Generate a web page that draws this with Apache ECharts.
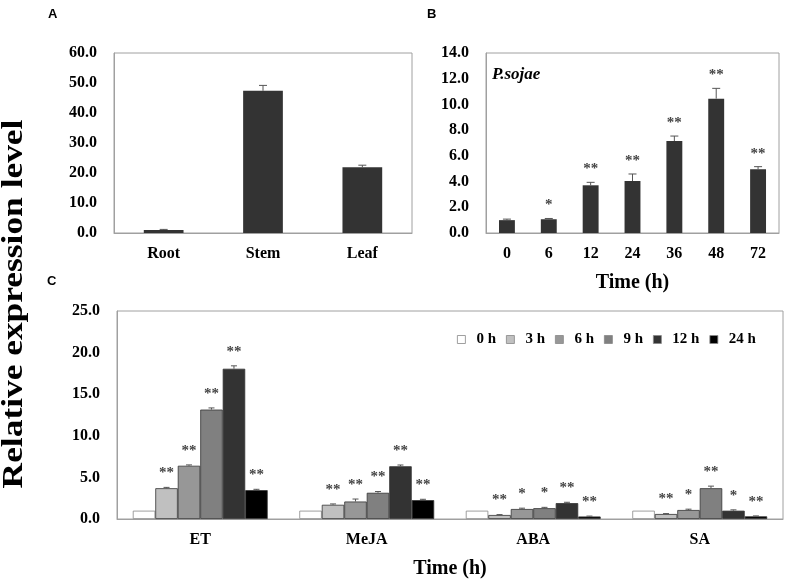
<!DOCTYPE html>
<html>
<head>
<meta charset="utf-8">
<script src="https://cdn.jsdelivr.net/npm/echarts@6/dist/echarts.min.js"></script>
<style>
  html, body { margin: 0; padding: 0; background: #fff; }
  #chart { width: 787px; height: 580px; }
</style>
</head>
<body>
<div id="chart"></div>
<script>
// Panel A: tissues
const tissues = ["Root", "Stem", "Leaf"];
const tissueVals = [1.0, 47.4, 21.9];
const tissueErr = [0.2, 1.8, 0.7];

// Panel B: P. sojae time course
const infTimes = ["0", "6", "12", "24", "36", "48", "72"];
const infVals = [1.0, 1.07, 3.71, 4.04, 7.15, 10.45, 4.95];
const infErr = [0.08, 0.06, 0.23, 0.55, 0.39, 0.8, 0.21];
const infStars = ["", "*", "**", "**", "**", "**", "**"];

// Panel C: hormone treatments
const stresses = ["ET", "MeJA", "ABA", "SA"];
const hours = ["0 h", "3 h", "6 h", "9 h", "12 h", "24 h"];
const h0 = [1.0, 1.0, 1.0, 1.0];
const h3 = [3.7, 1.71, 0.48, 0.6];
const h6 = [6.4, 2.1, 1.2, 1.08];
const h9 = [13.15, 3.15, 1.3, 3.7];
const h12 = [18.06, 6.34, 1.91, 1.0];
const h24 = [3.47, 2.27, 0.3, 0.32];
const e0 = [0, 0, 0, 0];
const e3 = [0.1, 0.1, 0.05, 0.05];
const e6 = [0.1, 0.3, 0.1, 0.1];
const e9 = [0.2, 0.15, 0.1, 0.25];
const e12 = [0.35, 0.15, 0.1, 0.1];
const e24 = [0.1, 0.1, 0.05, 0.05];
const s0 = ["", "", "", ""];
const s3 = ["**", "**", "**", "**"];
const s6 = ["**", "**", "*", "*"];
const s9 = ["**", "**", "*", "**"];
const s12 = ["**", "**", "**", "*"];
const s24 = ["**", "**", "**", "**"];

const hourVals = [h0, h3, h6, h9, h12, h24];
const hourErr = [e0, e3, e6, e9, e12, e24];
const hourStars = [s0, s3, s6, s9, s12, s24];
const hourColors = ["#ffffff", "#c0c0c0", "#979797", "#808080", "#333333", "#000000"];

const serif = "Liberation Serif";
const axisGray = "#a0a0a0";

// error bar + asterisk drawn over a bar (n bars per category, this one is k)
function errorSeries(gridIdx, vals, errs, stars, n, k, catGap, capW, starGap) {
  return {
    type: "custom",
    xAxisIndex: gridIdx,
    yAxisIndex: gridIdx,
    z: 5,
    data: vals.map((v, i) => [i, v, errs[i]]),
    renderItem: (params, api) => {
      const i = params.dataIndex;
      const base = api.coord([api.value(0), api.value(1)]);
      const top = api.coord([api.value(0), api.value(1) + api.value(2)]);
      const band = api.size([1, 0])[0];
      const groupW = band * (1 - catGap);
      const barW = groupW / n;
      const x = base[0] - groupW / 2 + barW * (k + 0.5);
      const children = [];
      if (api.value(2) > 0) {
        children.push({
          type: "line",
          shape: { x1: x, y1: base[1], x2: x, y2: top[1] },
          style: { stroke: "#555", lineWidth: 1 },
        });
        children.push({
          type: "line",
          shape: { x1: x - capW / 2, y1: top[1], x2: x + capW / 2, y2: top[1] },
          style: { stroke: "#555", lineWidth: 1 },
        });
      }
      if (stars[i]) {
        children.push({
          type: "text",
          x: x,
          y: top[1] - starGap,
          style: {
            text: stars[i],
            fill: "#444",
            font: "bold 15px " + serif,
            align: "center",
            verticalAlign: "middle",
          },
        });
      }
      return { type: "group", children };
    },
  };
}

const tickLabel = { color: "#000", fontFamily: serif, fontWeight: "bold", fontSize: 16 };

function valueAxis(gridIdx, max, interval) {
  return {
    type: "value",
    gridIndex: gridIdx,
    min: 0,
    max: max,
    interval: interval,
    axisLine: { show: true, lineStyle: { color: axisGray } },
    axisTick: { show: false },
    splitLine: { show: false },
    axisLabel: Object.assign({ margin: 17, formatter: (v) => v.toFixed(1) }, tickLabel),
  };
}

function catAxis(gridIdx, cats, name) {
  return {
    type: "category",
    gridIndex: gridIdx,
    data: cats,
    axisLine: { show: true, lineStyle: { color: axisGray } },
    axisTick: { show: false },
    axisLabel: Object.assign({ margin: 13 }, tickLabel),
    name: name || "",
    nameLocation: "middle",
    nameGap: 40,
    nameTextStyle: { color: "#000", fontFamily: serif, fontWeight: "bold", fontSize: 20 },
  };
}

const series = [];

series.push({
  type: "bar",
  xAxisIndex: 0,
  yAxisIndex: 0,
  data: tissueVals,
  barCategoryGap: "60%",
  itemStyle: { color: "#333333" },
});
series.push(errorSeries(0, tissueVals, tissueErr, ["", "", ""], 1, 0, 0.6, 8, 12));

series.push({
  type: "bar",
  xAxisIndex: 1,
  yAxisIndex: 1,
  data: infVals,
  barCategoryGap: "62%",
  itemStyle: { color: "#333333" },
});
series.push(errorSeries(1, infVals, infErr, infStars, 1, 0, 0.62, 8, 13));

hours.forEach((h, k) => {
  series.push({
    type: "bar",
    name: h,
    xAxisIndex: 2,
    yAxisIndex: 2,
    data: hourVals[k],
    barGap: "0%",
    barCategoryGap: "19%",
    itemStyle: {
      color: hourColors[k],
      borderColor: k === 0 ? "#888" : "#333",
      borderWidth: 0.8,
    },
  });
});
hours.forEach((h, k) => {
  series.push(errorSeries(2, hourVals[k], hourErr[k], hourStars[k], 6, k, 0.19, 6, 14));
});

const options = {
  animation: false,
  grid: [
    { left: 114, top: 53, width: 298, height: 180, show: true, borderColor: axisGray, borderWidth: 1 },
    { left: 486, top: 53, width: 293, height: 180, show: true, borderColor: axisGray, borderWidth: 1 },
    { left: 117, top: 311, width: 666, height: 209, show: true, borderColor: axisGray, borderWidth: 1 },
  ],
  xAxis: [catAxis(0, tissues), catAxis(1, infTimes, "Time (h)"), catAxis(2, stresses, "Time (h)")],
  yAxis: [valueAxis(0, 60, 10), valueAxis(1, 14, 2), valueAxis(2, 25, 5)],
  legend: {
    data: hours,
    left: 452,
    top: 327,
    itemWidth: 8,
    itemHeight: 8,
    itemGap: 10,
    icon: "rect",
    itemStyle: { borderColor: "#888", borderWidth: 0.8 },
    textStyle: {
      color: "#000",
      fontFamily: serif,
      fontWeight: "bold",
      fontSize: 15,
      padding: [0, 0, 0, 6],
    },
  },
  graphic: [
    { type: "text", left: 48, top: 8, style: { text: "A", font: "bold 13px Liberation Sans", fill: "#000" } },
    { type: "text", left: 427, top: 8, style: { text: "B", font: "bold 13px Liberation Sans", fill: "#000" } },
    { type: "text", left: 47, top: 275, style: { text: "C", font: "bold 13px Liberation Sans", fill: "#000" } },
    { type: "text", left: 492, top: 66, style: { text: "P.sojae", font: "italic bold 17px " + serif, fill: "#000" } },
    {
      type: "text",
      x: 15,
      y: 304,
      rotation: Math.PI / 2,
      scaleX: 1.22,
      style: {
        text: "Relative expression level",
        font: "bold 29px " + serif,
        fill: "#000",
        align: "center",
        verticalAlign: "middle",
      },
    },
  ],
  series,
};

const chart = echarts.init(document.getElementById("chart"));
chart.setOption(options);
window.addEventListener("resize", function () {
  chart.resize();
});
</script>
</body>
</html>
